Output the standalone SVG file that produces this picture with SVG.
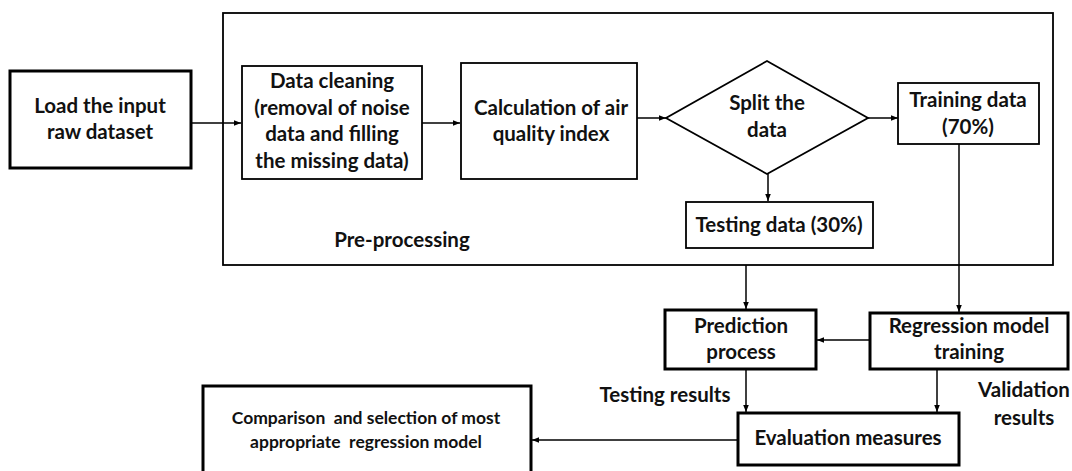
<svg xmlns="http://www.w3.org/2000/svg" width="1072" height="471" viewBox="0 0 1072 471">
<defs>
<marker id="ah" viewBox="0 0 10 10" refX="10" refY="5" markerWidth="7" markerHeight="7" markerUnits="userSpaceOnUse" orient="auto"><path d="M0,1 L10,5 L0,9 z" fill="#000"/></marker>
<style>
text{font-family:Lato,"Liberation Sans",Arial,sans-serif;font-weight:bold;fill:#111;text-anchor:middle;font-size:20.5px}
.thin{fill:#fff;stroke:#000;stroke-width:1.8}
.thick{fill:#fff;stroke:#000;stroke-width:3}
.c{fill:none;stroke:#000;stroke-width:1.5;marker-end:url(#ah)}
.sm{font-size:17.5px}
</style>
</defs>
<rect width="1072" height="471" fill="#fff"/>
<g id="preprocessing">
<rect x="223" y="13" width="830" height="252" fill="none" stroke="#000" stroke-width="1.8"/>
<text x="402" y="247">Pre-processing</text>
</g>
<g id="connectors">
<line class="c" x1="191" y1="123" x2="241" y2="123"/>
<line class="c" x1="422" y1="123" x2="460" y2="123"/>
<line class="c" x1="637" y1="118" x2="666" y2="118"/>
<line class="c" x1="868" y1="118" x2="898" y2="118"/>
<line class="c" x1="768" y1="174" x2="768" y2="201"/>
<line class="c" x1="746" y1="265" x2="746" y2="309"/>
<line class="c" x1="959" y1="144" x2="959" y2="312"/>
<line class="c" x1="870" y1="340" x2="817" y2="340"/>
<line class="c" x1="746" y1="369" x2="746" y2="412"/>
<line class="c" x1="937" y1="369" x2="937" y2="412"/>
<line class="c" x1="738" y1="440" x2="532" y2="440"/>
</g>
<g id="load">
<rect class="thick" x="10" y="71" width="181" height="97"/>
<text x="100" y="113">Load the input</text>
<text x="100" y="139">raw dataset</text>
</g>
<g id="cleaning">
<rect class="thin" x="242" y="66" width="180" height="113"/>
<text x="332" y="88">Data cleaning</text>
<text x="332" y="115">(removal of noise</text>
<text x="332" y="141">data and filling</text>
<text x="332" y="168">the missing data)</text>
</g>
<g id="aqi">
<rect class="thin" x="461" y="63" width="176" height="116"/>
<text x="551" y="115">Calculation of air</text>
<text x="551" y="141">quality index</text>
</g>
<g id="split">
<polygon class="thin" points="767,61 868,118 767,174 666,118"/>
<text x="767" y="110">Split the</text>
<text x="767" y="137">data</text>
</g>
<g id="training">
<rect class="thin" x="898" y="83" width="141" height="61"/>
<text x="968" y="107">Training data</text>
<text x="968" y="134">(70%)</text>
</g>
<g id="testing">
<rect class="thin" x="686" y="202" width="187" height="46"/>
<text x="779" y="232">Testing data (30%)</text>
</g>
<g id="prediction">
<rect class="thick" x="665" y="310" width="151" height="59"/>
<text x="741" y="333">Prediction</text>
<text x="741" y="359">process</text>
</g>
<g id="regression">
<rect class="thick" x="870" y="313" width="198" height="56"/>
<text x="969" y="333">Regression model</text>
<text x="969" y="359">training</text>
</g>
<g id="evaluation">
<rect class="thick" x="738" y="413" width="221" height="52"/>
<text x="848" y="445">Evaluation measures</text>
</g>
<g id="comparison">
<rect class="thick" x="203" y="386" width="328" height="90"/>
<text class="sm" x="366" y="424" xml:space="preserve">Comparison  and selection of most</text>
<text class="sm" x="366" y="448" xml:space="preserve">appropriate  regression model</text>
</g>
<g id="labels">
<text x="665" y="402">Testing results</text>
<text x="1024" y="397">Validation</text>
<text x="1024" y="425">results</text>
</g>
</svg>
